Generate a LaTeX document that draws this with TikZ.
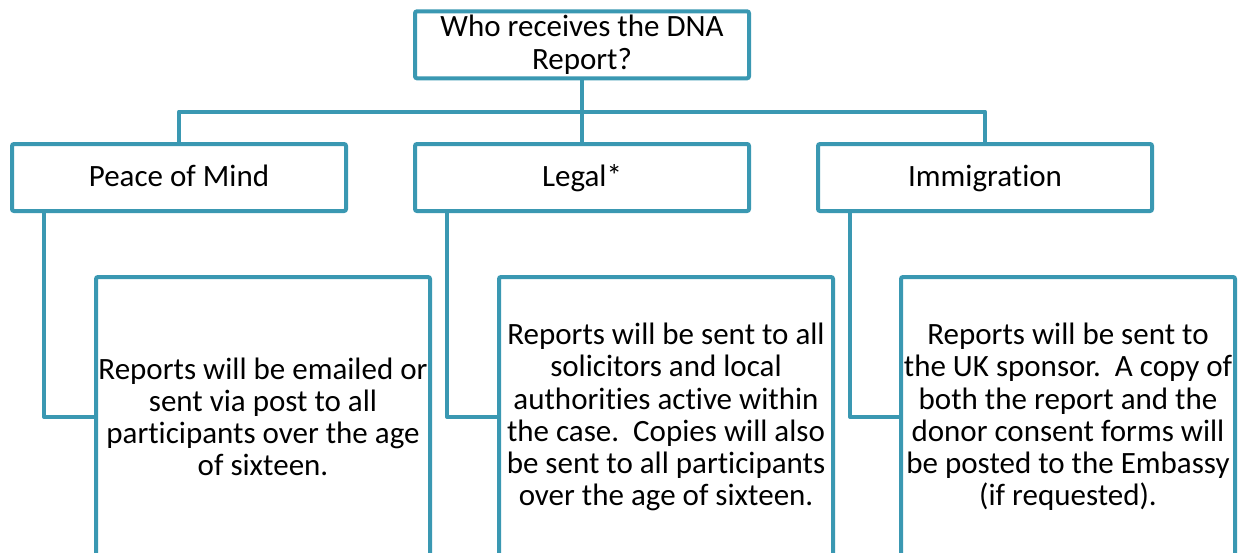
\documentclass[tikz,border=0pt]{standalone}
\usepackage{fontspec}
\setmainfont{Carlito}[Ligatures={NoCommon}]
\usepackage{tikz}
\usetikzlibrary{positioning}
\definecolor{dnablue}{RGB}{58,152,178}
\pgfdeclarelayer{nodelayer}
\pgfdeclarelayer{edgelayer}
\pgfsetlayers{edgelayer,nodelayer,main}
\tikzset{box/.style={draw=dnablue, line width=2pt, fill=white, rounded corners=1pt, inner sep=0pt,
align=center, font=\fontsize{15.5}{16.1}\selectfont}}
\tikzset{head/.style={box, minimum width=167pt, minimum height=33.5pt}}
\tikzset{tier/.style={head, text height=2.5ex, text depth=0.7ex}}
\tikzset{info/.style={box, minimum width=167pt, minimum height=140pt}}
\tikzset{wire/.style={draw=dnablue, line width=2pt, line join=round}}

\begin{document}
\begin{tikzpicture}[x=0.5pt, y=-0.5pt]
        \useasboundingbox (0, 0) rectangle (1240, 552);
        \begin{pgfonlayer}{nodelayer}
            \node [style=head] (0) at (582, 44.8) {Who receives the DNA\\Report?};
            \node [style=tier] (1) at (179, 177.5) {Peace of Mind};
            \node [style=tier] (2) at (582, 177.5) {Legal*};
            \node [style=tier] (3) at (985, 177.5) {Immigration};
            \node [style=info] (4) at (263, 417) {Reports will be emailed or\\sent via post to all\\participants over the age\\of sixteen.};
            \node [style=info] (5) at (666, 417) {Reports will be sent to all\\solicitors and local\\authorities active within\\the case.\ \ Copies will also\\be sent to all participants\\over the age of sixteen.};
            \node [style=info] (6) at (1068, 417) {Reports will be sent to\\the UK sponsor.\ \ A copy of\\both the report and the\\donor consent forms will\\be posted to the Embassy\\(if requested).};
            \coordinate (7) at (582, 111.5);
        \end{pgfonlayer}
        \begin{pgfonlayer}{edgelayer}
            \draw [style=wire] (0) to (2);
            \draw [style=wire] (1.north) |- (7) -| (3.north);
            \draw [style=wire] ([xshift=17pt]1.south west) |- (4.west);
            \draw [style=wire] ([xshift=17pt]2.south west) |- (5.west);
            \draw [style=wire] ([xshift=17pt]3.south west) |- (6.west);
        \end{pgfonlayer}
    \end{tikzpicture}
\end{document}
